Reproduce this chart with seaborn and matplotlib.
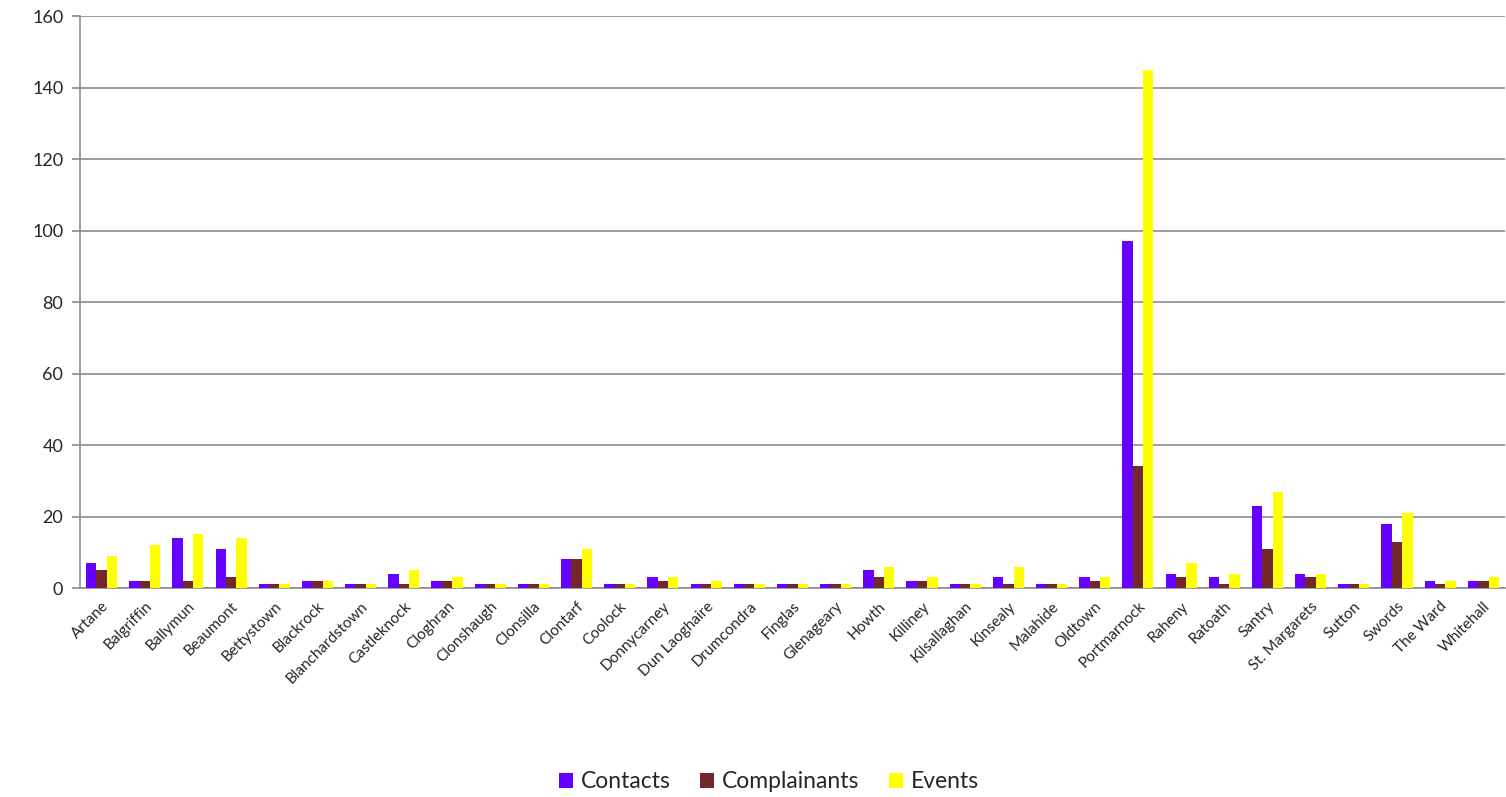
import numpy as np
import pandas as pd
import matplotlib
matplotlib.use("Agg")
import matplotlib.pyplot as plt
import seaborn as sns

areas = ["Artane", "Balgriffin", "Ballymun", "Beaumont", "Bettystown", "Blackrock",
         "Blanchardstown", "Castleknock", "Cloghran", "Clonshaugh", "Clonsilla",
         "Clontarf", "Coolock", "Donnycarney", "Dun Laoghaire", "Drumcondra",
         "Finglas", "Glenageary", "Howth", "Killiney", "Kilsallaghan", "Kinsealy",
         "Malahide", "Oldtown", "Portmarnock", "Raheny", "Ratoath", "Santry",
         "St. Margarets", "Sutton", "Swords", "The Ward", "Whitehall"]
contacts = [7, 2, 14, 11, 1, 2, 1, 4, 2, 1, 1, 8, 1, 3, 1, 1, 1, 1, 5, 2, 1, 3,
            1, 3, 97, 4, 3, 23, 4, 1, 18, 2, 2]
complainants = [5, 2, 2, 3, 1, 2, 1, 1, 2, 1, 1, 8, 1, 2, 1, 1, 1, 1, 3, 2, 1, 1,
                1, 2, 34, 3, 1, 11, 3, 1, 13, 1, 2]
events = [9, 12, 15, 14, 1, 2, 1, 5, 3, 1, 1, 11, 1, 3, 2, 1, 1, 1, 6, 3, 1, 6,
          1, 3, 145, 7, 4, 27, 4, 1, 21, 2, 3]
series = ["Contacts", "Complainants", "Events"]
colors = ["#6600FF", "#722828", "#FFFF00"]

df = pd.DataFrame({"Area": areas * 3,
                   "Series": np.repeat(series, len(areas)),
                   "Value": contacts + complainants + events})

sns.set_style("white")
plt.rcParams["font.family"] = ["Lato", "DejaVu Sans"]

fig = plt.figure(figsize=(15.06, 7.97), dpi=100)
ax = fig.add_axes([0.0531, 0.2622, 0.9462, 0.7177])

sns.barplot(data=df, x="Area", y="Value", hue="Series", palette=colors,
            saturation=1, width=0.72, gap=0, ax=ax, zorder=3, linewidth=0)

ax.set_ylim(0, 160)
ax.set_xlim(-0.5, len(areas) - 0.5)
ax.set_yticks(range(0, 161, 20))
ax.yaxis.grid(True, color="#8c8c8c", linewidth=1.2, zorder=0)
ax.set_xlabel("")
ax.set_ylabel("")

for s in ["top", "right"]:
    ax.spines[s].set_visible(False)
for s in ["left", "bottom"]:
    ax.spines[s].set_color("#8c8c8c")
    ax.spines[s].set_linewidth(1.2)

ax.set_xticks(range(len(areas)))
ax.set_xticklabels(areas, rotation=45, ha="right", rotation_mode="anchor", fontsize=11)
ax.set_xticks(np.arange(-0.5, len(areas), 1), minor=True)
ax.tick_params(axis="x", which="major", length=0, pad=8)
ax.tick_params(axis="x", which="minor", length=6, color="#8c8c8c", width=1.2, direction="out")
ax.tick_params(axis="y", length=6, color="#8c8c8c", width=1.2, direction="out",
               labelsize=13, left=True, pad=6)

ax.legend(loc="center", bbox_to_anchor=(0.4835, -0.339), ncol=3, frameon=False,
          fontsize=16.5, handlelength=0.6, handleheight=0.6, handletextpad=0.35,
          columnspacing=1.3, borderaxespad=0, borderpad=0)

fig.savefig("out.png", dpi=100)
